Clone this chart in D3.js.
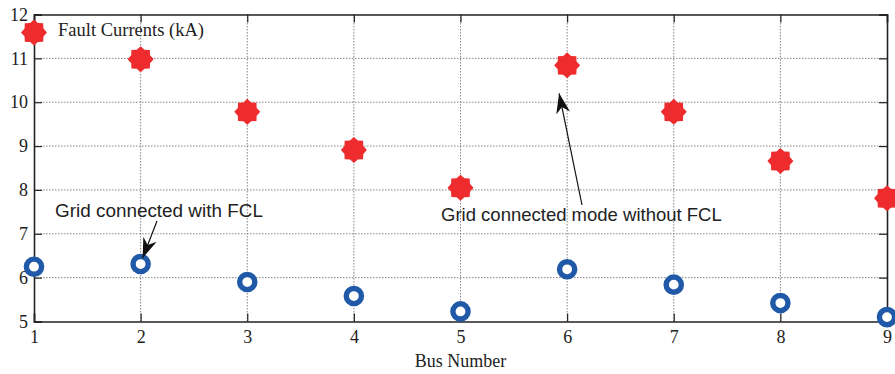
<!DOCTYPE html>
<html>
<head>
<meta charset="utf-8">
<script src="https://cdn.jsdelivr.net/npm/d3@7"></script>
<style>
  html, body { margin: 0; padding: 0; background: #fff; }
  svg { display: block; }
  .tick text { font-family: "Liberation Serif", "Times New Roman", serif; font-size: 18px; fill: #222; }
</style>
</head>
<body>
<svg id="chart" width="895" height="374"></svg>
<script>
// Bus numbers and fault currents (kA)
const buses = [1, 2, 3, 4, 5, 6, 7, 8, 9];
const withoutFCL = [11.59, 10.98, 9.78, 8.91, 8.05, 10.84, 9.78, 8.66, 7.81];
const withFCL = [6.25, 6.31, 5.90, 5.58, 5.23, 6.19, 5.84, 5.42, 5.10];
const yTicks = [5, 6, 7, 8, 9, 10, 11, 12];
const xTicks = [1, 2, 3, 4, 5, 6, 7, 8, 9];

const svg = d3.select("#chart");
const margin = { left: 34, right: 8, top: 14.5, bottom: 52.5 };
const W = 895, H = 374;
const x = d3.scaleLinear().domain([1, 9]).range([margin.left, W - margin.right]);
const y = d3.scaleLinear().domain([5, 12]).range([H - margin.bottom, margin.top]);

const x0 = x.range()[0], x1 = x.range()[1];
const y0 = y.range()[0], y1 = y.range()[1];

// dotted grid
const grid = svg.append("g").attr("stroke", "#777").attr("stroke-width", 0.9)
  .attr("stroke-dasharray", "1.5,1.5");
grid.selectAll("line.v").data(xTicks.slice(1, -1)).join("line")
  .attr("x1", d => x(d)).attr("x2", d => x(d)).attr("y1", y0).attr("y2", y1);
grid.selectAll("line.h").data(yTicks.slice(1, -1)).join("line")
  .attr("y1", d => y(d)).attr("y2", d => y(d)).attr("x1", x0).attr("x2", x1);

// axes with inward ticks on all four sides
const tickLen = 8;
const axB = svg.append("g").attr("transform", `translate(0,${y0})`)
  .call(d3.axisBottom(x).tickValues(xTicks).tickFormat(d3.format("d")).tickSize(-tickLen).tickPadding(9));
const axT = svg.append("g").attr("transform", `translate(0,${y1})`)
  .call(d3.axisTop(x).tickValues(xTicks).tickFormat("").tickSize(-tickLen));
const axL = svg.append("g").attr("transform", `translate(${x0},0)`)
  .call(d3.axisLeft(y).tickValues(yTicks).tickFormat(d3.format("d")).tickSize(-tickLen).tickPadding(6));
const axR = svg.append("g").attr("transform", `translate(${x1},0)`)
  .call(d3.axisRight(y).tickValues(yTicks).tickFormat("").tickSize(-tickLen));
[axB, axT, axL, axR].forEach(a => {
  a.select(".domain").attr("stroke", "#222").attr("stroke-width", 1.6);
  a.selectAll(".tick line").attr("stroke", "#222").attr("stroke-width", 1.2);
});

// data markers: 8-point star for the case without FCL
const starPts = d3.range(16).map(i => [i * Math.PI / 8, i % 2 === 0 ? 13 : 10.2]);
const starPath = d3.lineRadial().curve(d3.curveLinearClosed)(starPts);
svg.append("g").selectAll("path").data(buses).join("path")
  .attr("d", starPath)
  .attr("transform", (d, i) => `translate(${x(d)},${y(withoutFCL[i])})`)
  .attr("fill", "#ee2b2d");

// open circles for the case with FCL
svg.append("g").selectAll("circle").data(buses).join("circle")
  .attr("cx", d => x(d)).attr("cy", (d, i) => y(withFCL[i]))
  .attr("r", 7.6).attr("fill", "#fff").attr("stroke", "#1f59a8").attr("stroke-width", 5.4);

// labels
svg.append("text").attr("x", 58).attr("y", 36)
  .attr("font-family", "Liberation Serif, Times New Roman, serif").attr("font-size", 18.5).attr("fill", "#222")
  .text("Fault Currents (kA)");
svg.append("text").attr("x", (x0 + x1) / 2).attr("y", 367).attr("text-anchor", "middle")
  .attr("font-family", "Liberation Serif, Times New Roman, serif").attr("font-size", 18).attr("fill", "#222")
  .text("Bus Number");

// annotations with arrows
const defs = svg.append("defs");
defs.append("marker").attr("id", "arrow").attr("viewBox", "0 0 20 14")
  .attr("refX", 20).attr("refY", 7).attr("markerWidth", 20).attr("markerHeight", 14)
  .attr("markerUnits", "userSpaceOnUse").attr("orient", "auto")
  .append("path").attr("d", "M0,0 L20,7 L0,14 L6,7 Z").attr("fill", "#111");

function annotate(label, tx, ty, size, fromX, fromY, toBus, toVal, dx, dy) {
  svg.append("text").attr("x", tx).attr("y", ty)
    .attr("font-family", "Liberation Sans, Arial, Helvetica, sans-serif").attr("font-size", size).attr("fill", "#222")
    .text(label);
  svg.append("line")
    .attr("x1", fromX).attr("y1", fromY)
    .attr("x2", x(toBus) + dx).attr("y2", y(toVal) + dy)
    .attr("stroke", "#111").attr("stroke-width", 1.2)
    .attr("marker-end", "url(#arrow)");
}
annotate("Grid connected with FCL", 55, 217, 18.9, 157, 221, 2, withFCL[1], 2, -6);
annotate("Grid connected mode without FCL", 441, 221, 18.5, 582, 205, 6, withoutFCL[5], -8, 28);
</script>
</body>
</html>
